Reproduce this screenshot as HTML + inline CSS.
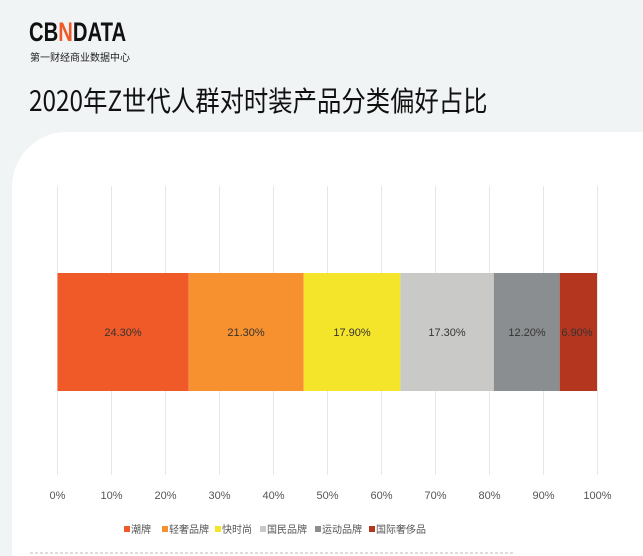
<!DOCTYPE html>
<html style="overflow:hidden"><head><meta charset="utf-8"><style>
html,body{margin:0;width:643px;height:556px;overflow:hidden}
body{background:#f1f4f5;position:relative;font-family:"Liberation Sans","Noto Sans CJK SC",sans-serif}
.panel{position:absolute;left:12px;top:132px;width:631px;height:424px;background:#fff;border-top-left-radius:55px}
.abs{position:absolute}
</style></head><body>
<div class="abs" style="left:29px;top:17px;font-size:27px;font-weight:bold;color:#111;transform:scaleX(0.75);transform-origin:left top;white-space:nowrap">CB<span style="color:#f05a28">N</span>DATA</div>
<div class="abs" style="left:30px;top:49px;font-size:10px;color:#222;white-space:nowrap">第一财经商业数据中心</div>
<div class="abs" style="left:29px;top:80px;font-size:28px;color:#111;font-family:'Noto Sans CJK SC',sans-serif;transform:scaleX(0.87);transform-origin:left top;white-space:nowrap">2020年Z世代人群对时装产品分类偏好占比</div>
<div class="panel"></div>
<svg class="abs" style="left:0;top:0" width="643" height="556">
<g stroke="#e6e6e6" stroke-width="1">
<line x1="57.5" y1="186" x2="57.5" y2="475"/><line x1="111.5" y1="186" x2="111.5" y2="475"/><line x1="165.5" y1="186" x2="165.5" y2="475"/><line x1="219.5" y1="186" x2="219.5" y2="475"/><line x1="273.5" y1="186" x2="273.5" y2="475"/><line x1="327.5" y1="186" x2="327.5" y2="475"/><line x1="381.5" y1="186" x2="381.5" y2="475"/><line x1="435.5" y1="186" x2="435.5" y2="475"/><line x1="489.5" y1="186" x2="489.5" y2="475"/><line x1="543.5" y1="186" x2="543.5" y2="475"/><line x1="597.5" y1="186" x2="597.5" y2="475"/>
</g>
<rect x="57.5" y="273" width="131.2" height="118" fill="#f05a28"/>
<rect x="188.7" y="273" width="115" height="118" fill="#f7902e"/>
<rect x="303.7" y="273" width="96.7" height="118" fill="#f5e52a"/>
<rect x="400.4" y="273" width="93.4" height="118" fill="#c9cac8"/>
<rect x="493.8" y="273" width="65.9" height="118" fill="#8b8e90"/>
<rect x="559.7" y="273" width="37.3" height="118" fill="#b5361f"/>
<g font-size="11" fill="#333" text-anchor="middle" font-family="Liberation Sans,sans-serif">
<text x="123" y="336">24.30%</text><text x="246" y="336">21.30%</text><text x="352" y="336">17.90%</text><text x="447" y="336">17.30%</text><text x="527" y="336">12.20%</text><text x="577" y="336">6.90%</text>
</g>
<g font-size="11" fill="#555" text-anchor="middle" font-family="Liberation Sans,sans-serif">
<text x="57.5" y="499">0%</text><text x="111.5" y="499">10%</text><text x="165.5" y="499">20%</text><text x="219.5" y="499">30%</text><text x="273.5" y="499">40%</text><text x="327.5" y="499">50%</text><text x="381.5" y="499">60%</text><text x="435.5" y="499">70%</text><text x="489.5" y="499">80%</text><text x="543.5" y="499">90%</text><text x="597.5" y="499">100%</text>
</g>
<g font-size="10" fill="#555" font-family="Noto Sans CJK SC,sans-serif">
<rect x="124" y="526" width="6" height="6" fill="#f05a28"/><text x="131" y="533">潮牌</text>
<rect x="162" y="526" width="6" height="6" fill="#f7902e"/><text x="169" y="533">轻奢品牌</text>
<rect x="215" y="526" width="6" height="6" fill="#f5e52a"/><text x="222" y="533">快时尚</text>
<rect x="260" y="526" width="6" height="6" fill="#c9cac8"/><text x="267" y="533">国民品牌</text>
<rect x="315" y="526" width="6" height="6" fill="#8b8e90"/><text x="322" y="533">运动品牌</text>
<rect x="369" y="526" width="6" height="6" fill="#b5361f"/><text x="376" y="533">国际奢侈品</text>
</g>
<line x1="30" y1="553" x2="515" y2="553" stroke="#bbb" stroke-dasharray="3,2"/>
</svg>
</body></html>
